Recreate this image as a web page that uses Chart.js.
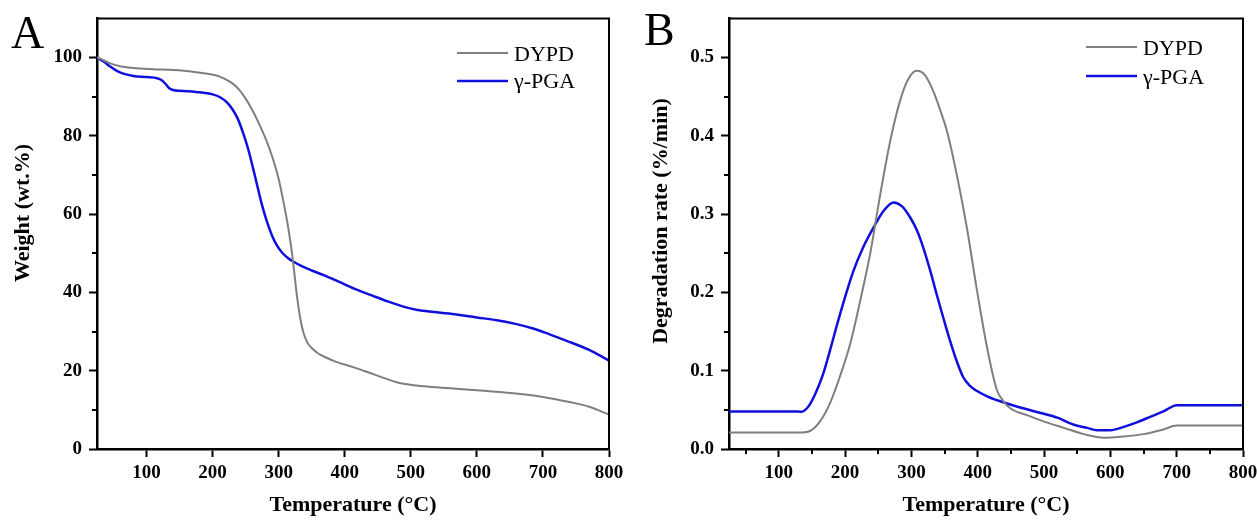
<!DOCTYPE html>
<html>
<head>
<meta charset="utf-8">
<script src="https://cdn.jsdelivr.net/npm/chart.js@4.4.0/dist/chart.umd.min.js"></script>
<style>
  body { margin: 0; background: #fff; width: 1257px; height: 520px; overflow: hidden; position: relative; }
  #wrapA { position: absolute; left: 0; top: 0; width: 628px; height: 520px; }
  #wrapB { position: absolute; left: 628px; top: 0; width: 629px; height: 520px; }
</style>
</head>
<body>
<div id="wrapA"><canvas id="chartA"></canvas></div>
<div id="wrapB"><canvas id="chartB"></canvas></div>
<script>
// panel A - TG curves
let tempDypdA = [25, 35, 45, 60, 80, 110, 140, 170, 195, 210, 220, 230, 240, 250, 260, 270, 280, 290, 300, 308, 314, 319, 323, 327, 332, 337, 343, 350, 360, 370, 385, 415, 445, 480, 520, 560, 600, 650, 700, 740, 770, 800];
let weightDypd = [100, 99.3, 98.5, 97.8, 97.3, 97.0, 96.8, 96.4, 95.8, 95.2, 94.4, 93.4, 91.8, 89.5, 86.6, 83.2, 79.4, 74.8, 69.0, 62.5, 57.0, 51.5, 46.0, 40.0, 34.0, 30.0, 27.3, 25.8, 24.4, 23.5, 22.4, 20.8, 19.0, 17.0, 16.0, 15.5, 15.0, 14.3, 13.3, 12.0, 10.8, 8.8];
let tempPgaA = [25, 35, 45, 55, 65, 80, 100, 116, 123, 129, 134, 140, 150, 175, 200, 212, 222, 230, 238, 246, 254, 264, 274, 282, 290, 298, 306, 314, 322, 335, 350, 370, 390, 415, 440, 465, 490, 510, 535, 558, 600, 630, 660, 685, 710, 735, 770, 800];
let weightPga = [100, 99.0, 97.7, 96.6, 95.9, 95.3, 95.0, 94.7, 94.2, 93.2, 92.2, 91.7, 91.5, 91.2, 90.6, 89.8, 88.5, 86.8, 84.4, 80.8, 76.5, 69.8, 62.8, 58.2, 54.5, 51.8, 50.0, 48.8, 47.9, 46.7, 45.6, 44.3, 42.8, 40.9, 39.3, 37.7, 36.3, 35.5, 35.0, 34.6, 33.6, 32.9, 31.9, 30.8, 29.3, 27.7, 25.3, 22.6];

// panel B - DTG curves
let tempDypdB = [25, 80, 125, 132, 147, 162, 177, 192, 208, 223, 238, 253, 268, 283, 295, 308, 321, 333, 343, 354, 369, 384, 399, 414, 429, 438, 449, 475, 500, 530, 560, 590, 620, 650, 680, 700, 750, 800];
let rateDypd = [0.021, 0.021, 0.021, 0.021, 0.023, 0.035, 0.058, 0.092, 0.135, 0.190, 0.250, 0.325, 0.393, 0.445, 0.472, 0.483, 0.477, 0.457, 0.434, 0.405, 0.348, 0.281, 0.202, 0.130, 0.075, 0.062, 0.052, 0.043, 0.035, 0.027, 0.019, 0.0145, 0.016, 0.019, 0.025, 0.030, 0.030, 0.030];
let tempPgaB = [25, 80, 125, 134, 140, 147, 157, 167, 177, 187, 200, 212, 227, 243, 258, 273, 286, 298, 308, 318, 328, 338, 348, 358, 368, 378, 388, 399, 415, 434, 460, 495, 520, 545, 565, 580, 600, 619, 640, 660, 680, 700, 750, 800];
let ratePga = [0.048, 0.048, 0.048, 0.0475, 0.050, 0.057, 0.074, 0.096, 0.125, 0.156, 0.194, 0.226, 0.257, 0.283, 0.304, 0.315, 0.310, 0.296, 0.280, 0.257, 0.229, 0.198, 0.168, 0.139, 0.113, 0.092, 0.081, 0.074, 0.067, 0.061, 0.054, 0.046, 0.040, 0.031, 0.027, 0.024, 0.024, 0.028, 0.034, 0.041, 0.048, 0.056, 0.056, 0.056];

// ticks
let xTicks = [100, 200, 300, 400, 500, 600, 700, 800];
let xMinorB = [50, 150, 250, 350, 450, 550, 650, 750];
let yTicksA = [0, 20, 40, 60, 80, 100];
let yMinorA = [10, 30, 50, 70, 90];
let yTicksB = [0, 0.1, 0.2, 0.3, 0.4, 0.5];
let yMinorB = [0.05, 0.15, 0.25, 0.35, 0.45];

let seriesNames = ['DYPD', 'γ-PGA'];
let seriesColors = ['#7f7f7f', '#1010dc'];

const serif = '"Liberation Serif", "Times New Roman", serif';
const tickFont = { family: serif, size: 19, weight: 'bold' };
const titleFont = { family: serif, size: 22, weight: 'bold' };

function toPoints(xs, ys) {
    return xs.map((x, i) => ({ x: x, y: ys[i] }));
}

// frame, minor ticks, legend, panel letter and y title
const panelDecor = {
    id: 'panelDecor',
    afterDraw(chart, args, o) {
        const ctx = chart.ctx;
        const a = chart.chartArea;
        const x = chart.scales.x;
        const y = chart.scales.y;
        ctx.save();
        ctx.strokeStyle = '#000';
        ctx.lineWidth = 2;
        ctx.beginPath();
        ctx.moveTo(a.left, a.top);
        ctx.lineTo(a.right, a.top);
        ctx.lineTo(a.right, a.bottom + 1);
        ctx.stroke();

        ctx.beginPath();
        o.xMinor.forEach(v => {
            const px = Math.round(x.getPixelForValue(v));
            ctx.moveTo(px, a.bottom);
            ctx.lineTo(px, a.bottom + 5);
        });
        o.yMinor.forEach(v => {
            const py = Math.round(y.getPixelForValue(v));
            ctx.moveTo(a.left, py);
            ctx.lineTo(a.left - 5, py);
        });
        ctx.stroke();

        // legend
        ctx.font = '22px ' + serif;
        ctx.textBaseline = 'middle';
        ctx.textAlign = 'left';
        seriesNames.forEach((name, i) => {
            const ly = o.legendY[i];
            ctx.strokeStyle = seriesColors[i];
            ctx.lineWidth = i === 0 ? 2 : 2.5;
            ctx.beginPath();
            ctx.moveTo(o.legendX, ly);
            ctx.lineTo(o.legendX + 51, ly);
            ctx.stroke();
            ctx.fillStyle = '#000';
            ctx.fillText(name, o.legendX + 57, o.legendTextY[i]);
        });

        // panel letter
        ctx.font = '46px ' + serif;
        ctx.textBaseline = 'alphabetic';
        ctx.fillText(o.letter, o.letterX, o.letterY);

        // y axis title
        ctx.translate(o.yTitleX, o.yTitleY);
        ctx.rotate(-Math.PI / 2);
        ctx.font = 'bold 22px ' + serif;
        ctx.textAlign = 'center';
        ctx.textBaseline = 'middle';
        ctx.fillText(o.yTitle, 0, 0);
        ctx.restore();
    }
};

function makeChart(canvasId, cfg) {
    return new Chart(document.getElementById(canvasId), {
        type: 'line',
        data: {
            datasets: [{
                label: seriesNames[0],
                data: toPoints(cfg.t1, cfg.v1),
                borderColor: seriesColors[0],
                borderWidth: 2,
                pointRadius: 0,
                cubicInterpolationMode: 'monotone',
                fill: false
            }, {
                label: seriesNames[1],
                data: toPoints(cfg.t2, cfg.v2),
                borderColor: seriesColors[1],
                borderWidth: 2.5,
                pointRadius: 0,
                cubicInterpolationMode: 'monotone',
                fill: false
            }]
        },
        options: {
            responsive: true,
            maintainAspectRatio: false,
            animation: false,
            devicePixelRatio: 1,
            layout: { padding: { left: 0, right: cfg.padRight, top: 16, bottom: 0 } },
            plugins: {
                legend: { display: false },
                tooltip: { enabled: false },
                panelDecor: cfg.decor
            },
            scales: {
                x: {
                    type: 'linear',
                    min: 25,
                    max: 800,
                    afterBuildTicks: s => { s.ticks = xTicks.map(v => ({ value: v })); },
                    afterFit: s => { s.height = 71; s.paddingRight = 0; s.paddingLeft = 0; },
                    border: { color: '#000', width: 2.5 },
                    grid: { drawOnChartArea: false, drawTicks: true, tickLength: 8, tickWidth: 2, tickColor: '#000' },
                    ticks: { font: tickFont, color: '#000', padding: 5, maxRotation: 0 },
                    title: { display: true, text: 'Temperature (°C)', font: titleFont, color: '#000', padding: { top: 0, bottom: 1 } }
                },
                y: {
                    type: 'linear',
                    min: cfg.yMin,
                    max: cfg.yMax,
                    afterBuildTicks: s => { s.ticks = cfg.yTicks.map(v => ({ value: v })); },
                    afterFit: s => { s.width = cfg.yWidth; },
                    border: { color: '#000', width: 2.5 },
                    grid: { drawOnChartArea: false, drawTicks: true, tickLength: 8, tickWidth: 2, tickColor: '#000' },
                    ticks: { font: tickFont, color: '#000', padding: 7, callback: cfg.yLabel }
                }
            }
        },
        plugins: [panelDecor]
    });
}

makeChart('chartA', {
    t1: tempDypdA, v1: weightDypd, t2: tempPgaA, v2: weightPga,
    yMin: 0, yMax: 110, yTicks: yTicksA, yWidth: 97, padRight: 19,
    yLabel: v => String(v),
    decor: {
        xMinor: [], yMinor: yMinorA,
        legendX: 457, legendY: [53, 81], legendTextY: [55, 82],
        letter: 'A', letterX: 11, letterY: 48,
        yTitle: 'Weight (wt.%)', yTitleX: 23, yTitleY: 213
    }
});

makeChart('chartB', {
    t1: tempDypdB, v1: rateDypd, t2: tempPgaB, v2: ratePga,
    yMin: 0, yMax: 0.55, yTicks: yTicksB, yWidth: 101, padRight: 14,
    yLabel: v => v.toFixed(1),
    decor: {
        xMinor: xMinorB, yMinor: yMinorB,
        legendX: 458, legendY: [47, 76], legendTextY: [49, 78],
        letter: 'B', letterX: 16, letterY: 45,
        yTitle: 'Degradation rate (%/min)', yTitleX: 33, yTitleY: 221
    }
});
</script>
</body>
</html>
